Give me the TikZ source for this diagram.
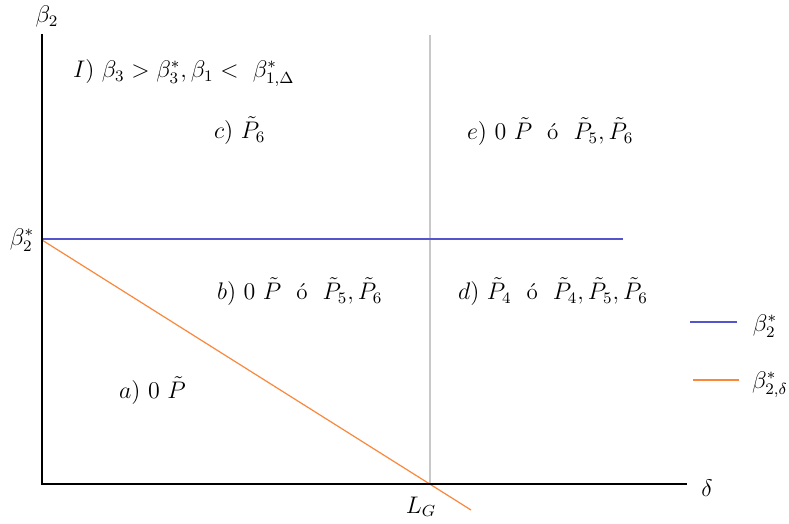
\documentclass[tikz,border=0pt]{standalone}
\usepackage{amsmath}
\definecolor{lineblue}{RGB}{84,84,204}
\definecolor{lineorange}{RGB}{250,135,60}
\definecolor{linegray}{RGB}{200,200,200}
\begin{document}
\begin{tikzpicture}[x=0.5pt,y=-0.5pt,every node/.style={font=\fontsize{11.5}{13}\selectfont}]
  \useasboundingbox (0,0) rectangle (789,524);
  \draw[linegray,line width=0.8pt] (430,35)--(430,484);
  \draw[lineblue,line width=0.6pt] (42,239)--(623,239);
  \draw[lineorange,line width=0.6pt] (42,240)--(471,510);
  \draw[line width=1pt] (42,34)--(42,484)--(687,484);
  \node (ylab) at (47,17) {$\beta_2$};
  \node (xlab) at (707,488) {$\delta$};
  \node (bstar) at (22,240) {$\beta_2^*$};
  \node (lg) at (421,507) {$L_G$};
  \node[right] (regI) at (66,73) {$I)\ \beta_3>\beta_3^*,\beta_1<\ \beta_{1,\Delta}^*$};
  \node[right] (regc) at (207,131) {$c)\ \tilde{P}_6$};
  \node[right] (rege) at (460,132) {$e)\ 0\ \tilde{P}$ \ ó \ $\tilde{P}_5,\tilde{P}_6$};
  \node[right] (regb) at (210,292) {$b)\ 0\ \tilde{P}$ \ ó \ $\tilde{P}_5,\tilde{P}_6$};
  \node[right] (regd) at (451,292) {$d)\ \tilde{P}_4$ \ ó \ $\tilde{P}_4,\tilde{P}_5,\tilde{P}_6$};
  \node[right] (rega) at (112,391) {$a)\ 0\ \tilde{P}$};
  % legend
  \draw[lineblue,line width=0.6pt] (690,322)--(737,322);
  \node (legb) at (765,326) {$\beta_2^*$};
  \draw[lineorange,line width=0.6pt] (693,380)--(739,380);
  \node (lego) at (770,385) {$\beta_{2,\delta}^*$};
\end{tikzpicture}
\end{document}
